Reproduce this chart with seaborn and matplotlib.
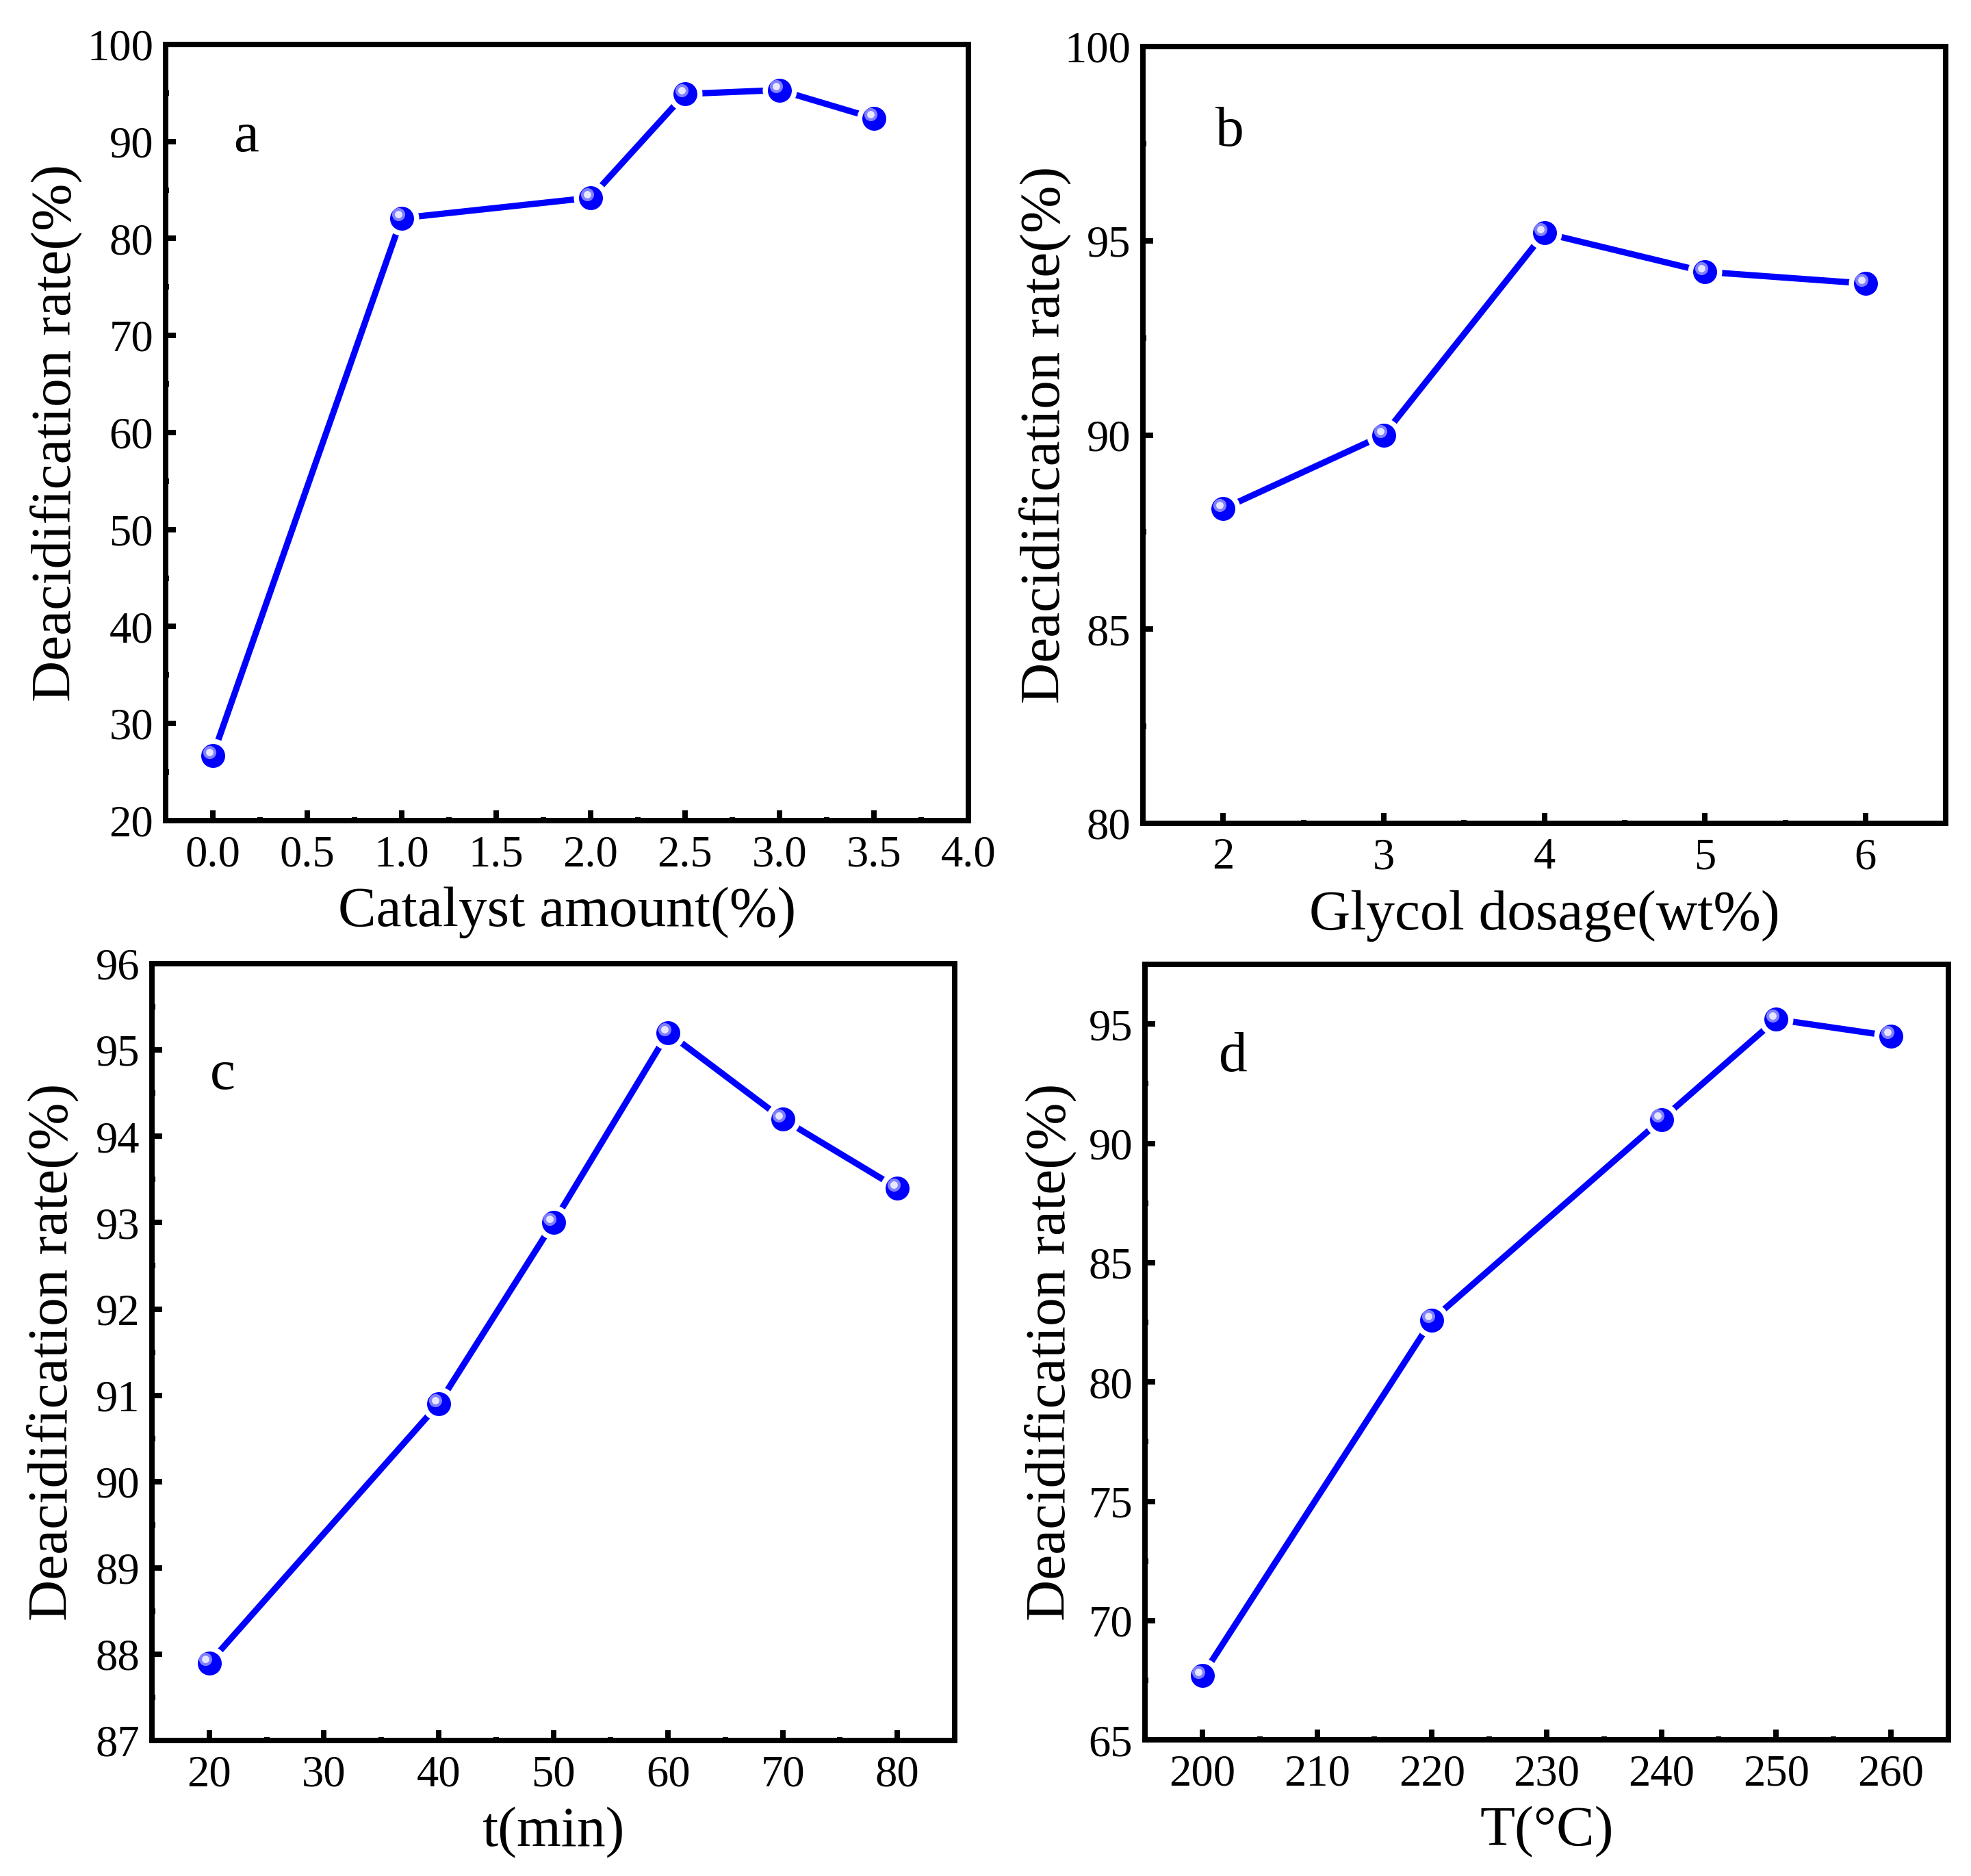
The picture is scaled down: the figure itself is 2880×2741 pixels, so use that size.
import matplotlib
matplotlib.use("Agg")
import matplotlib.pyplot as plt
import matplotlib.transforms as mtransforms
from matplotlib.ticker import MultipleLocator, FormatStrFormatter
import seaborn as sns

# Style
sns.set_theme(style="white")
plt.rcParams['font.family'] = ['Liberation Serif', 'DejaVu Serif']
plt.rcParams['text.color'] = 'black'
plt.rcParams['axes.labelcolor'] = 'black'
plt.rcParams['xtick.color'] = 'black'
plt.rcParams['ytick.color'] = 'black'

# --- Data ---
catalyst_x = [0.0, 1.0, 2.0, 2.5, 3.0, 3.5]
catalyst_y = [26.7, 82.1, 84.2, 94.9, 95.3, 92.4]

glycol_x = [2, 3, 4, 5, 6]
glycol_y = [88.1, 90.0, 95.2, 94.2, 93.9]

time_x = [20, 40, 50, 60, 70, 80]
time_y = [87.9, 90.9, 93.0, 95.2, 94.2, 93.4]

temp_x = [200, 220, 240, 250, 260]
temp_y = [67.7, 82.6, 91.0, 95.2, 94.5]

ylabel = 'Deacidification rate(%)'

DPI = 300
fig = plt.figure(figsize=(2880 / DPI, 2741 / DPI), dpi=DPI)

panels = [
    # letter, x, y, xlabel, rect, xlim, ylim, xmajor, ymajor, xfmt, letter pos, ylabel x
    ('a', catalyst_x, catalyst_y, 'Catalyst amount(%)', [0.0840, 0.5626, 0.4073, 0.4137],
     (-0.25, 4.0), (20, 100), 0.5, 10, '%.1f', (0.10, 0.88), -0.104),
    ('b', glycol_x, glycol_y, 'Glycol dosage(wt%)', [0.5799, 0.5611, 0.4073, 0.4141],
     (1.5, 6.5), (80, 100), 1, 5, '%d', (0.108, 0.89), -0.089),
    ('c', time_x, time_y, 't(min)', [0.0771, 0.0722, 0.4073, 0.4141],
     (15, 85), (87, 96), 10, 1, '%d', (0.088, 0.856), -0.091),
    ('d', temp_x, temp_y, 'T(°C)', [0.5809, 0.0725, 0.4076, 0.4134],
     (195, 265), (65, 97.5), 10, 5, '%d', (0.11, 0.88), -0.085),
]

for letter, xs, ys, xlabel, rect, xlim, ylim, xmaj, ymaj, xfmt, lpos, ylx in panels:
    ax = fig.add_axes(rect)
    sns.lineplot(x=xs, y=ys, ax=ax, color='#0000FF', linewidth=2.2, marker='o',
                 markersize=10.2, markerfacecolor='#0000FF', markeredgecolor='white',
                 markeredgewidth=1.8, zorder=3)
    # sphere highlight on each marker
    hl = mtransforms.offset_copy(ax.transData, fig=fig, x=-1.3, y=1.3, units='points')
    ax.plot(xs, ys, 'o', ms=4.6, color='#8080ff', mec='none', transform=hl, zorder=4)
    ax.plot(xs, ys, 'o', ms=2.6, color='#e6e6ff', mec='none', transform=hl, zorder=5)

    ax.set_xlim(*xlim)
    ax.set_ylim(*ylim)
    ax.xaxis.set_major_locator(MultipleLocator(xmaj))
    ax.xaxis.set_minor_locator(MultipleLocator(xmaj / 2))
    ax.yaxis.set_major_locator(MultipleLocator(ymaj))
    ax.yaxis.set_minor_locator(MultipleLocator(ymaj / 2))
    ax.xaxis.set_major_formatter(FormatStrFormatter(xfmt))

    ax.tick_params(which='both', direction='in', top=False, right=False,
                   bottom=True, left=True, width=1.9, labelsize=15.5)
    ax.tick_params(which='major', length=3.6)
    ax.tick_params(which='minor', length=1.2)
    ax.tick_params(axis='y', which='major', pad=4.3)
    ax.tick_params(axis='x', which='major', pad=5)
    for sp in ax.spines.values():
        sp.set_linewidth(1.9)
        sp.set_color('black')

    ax.set_xlabel(xlabel, fontsize=20, labelpad=4)
    ax.set_ylabel(ylabel, fontsize=20)
    ax.yaxis.set_label_coords(ylx, 0.5)
    ax.text(lpos[0], lpos[1], letter, transform=ax.transAxes, fontsize=20,
            ha='center', va='center')
    ax.grid(False)

fig.savefig('out.png', dpi=DPI, facecolor='white')
